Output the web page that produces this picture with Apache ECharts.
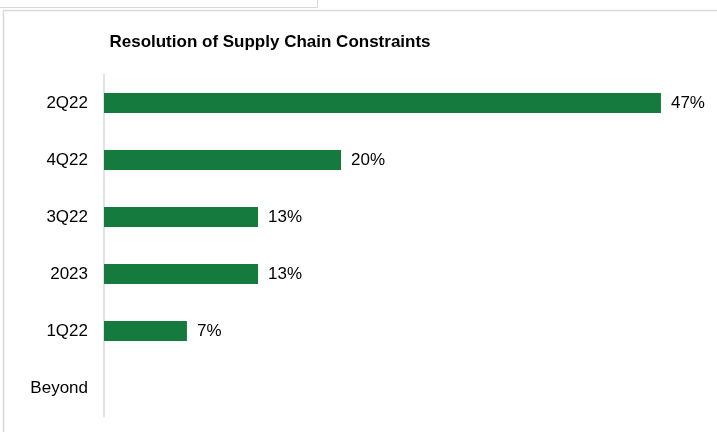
<!DOCTYPE html>
<html>
<head>
<meta charset="utf-8">
<script src="https://cdn.jsdelivr.net/npm/echarts@6/dist/echarts.min.js"></script>
<style>
  html, body { margin: 0; padding: 0; background: #ffffff; }
  #chart { width: 717px; height: 432px; }
</style>
</head>
<body>
<div id="chart"></div>
<script>
// Timing buckets, top to bottom as listed
const categories = ['2Q22', '4Q22', '3Q22', '2023', '1Q22', 'Beyond'];
// Share of responses (%)
const shares = [47, 20, 13, 13, 7, 0];
const chartTitle = 'Resolution of Supply Chain Constraints';

const FONT = '"Liberation Sans", Arial, sans-serif';
const BORDER = '#d9d9d9';

const chart = echarts.init(document.getElementById('chart'), null, { renderer: 'canvas' });

chart.setOption({
  backgroundColor: '#ffffff',
  animation: false,
  title: {
    text: chartTitle,
    left: 265,
    top: 29,
    textAlign: 'center',
    textStyle: { fontFamily: FONT, fontSize: 17, fontWeight: 'bold', color: '#000000' }
  },
  graphic: [
    // frame of the sheet cell above and the chart box edges
    { type: 'polyline', shape: { points: [[0, 7.5], [317.5, 7.5], [317.5, 0]] },
      style: { stroke: BORDER, lineWidth: 1, fill: null } },
    { type: 'polyline', shape: { points: [[3.5, 432], [3.5, 10.5], [717, 10.5]] },
      style: { stroke: BORDER, lineWidth: 1.5, fill: null } }
  ],
  grid: {
    left: 104,
    top: 74.5,
    width: 592.5,
    height: 342,
    containLabel: false
  },
  xAxis: {
    type: 'value',
    min: 0,
    max: 50,
    show: false
  },
  yAxis: {
    type: 'category',
    inverse: true,
    data: categories,
    axisLine: { show: true, lineStyle: { color: BORDER, width: 1.5 } },
    axisTick: { show: false },
    axisLabel: { fontFamily: FONT, fontSize: 17, color: '#000000', margin: 16 },
    splitLine: { show: false }
  },
  series: [{
    type: 'bar',
    data: shares.map(v => (v > 0 ? v : null)),
    barWidth: 20,
    itemStyle: { color: '#157a3e' },
    label: {
      show: true,
      position: 'right',
      distance: 10,
      fontFamily: FONT,
      fontSize: 17,
      color: '#000000',
      formatter: p => p.value + '%'
    }
  }]
});
</script>
</body>
</html>
